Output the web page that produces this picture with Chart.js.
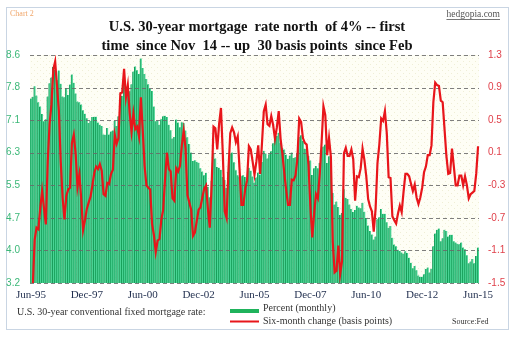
<!DOCTYPE html>
<html>
<head>
<meta charset="utf-8">
<script src="https://cdn.jsdelivr.net/npm/chart.js@4/dist/chart.umd.min.js"></script>
<style>
html,body{margin:0;padding:0;background:#fff;}
#wrap{width:515px;height:339px;position:relative;}
</style>
</head>
<body>
<div id="wrap"><canvas id="c" width="515" height="339"></canvas></div>
<script>
// ---- Data (monthly, Jun-95 .. Jun-15) ----
const startYear = 1995, startMonth = 5; // June
const monthNames = ['Jan','Feb','Mar','Apr','May','Jun','Jul','Aug','Sep','Oct','Nov','Dec'];

// U.S. 30-year conventional fixed mortgage rate, percent (monthly)
const rate1995 = [7.57,7.61,7.86,7.64,7.48,7.38,7.20];
const rate1996 = [7.03,7.08,7.62,7.93,8.07,8.32,8.25,8.00,8.23,7.92,7.62,7.60];
const rate1997 = [7.82,7.65,7.90,8.14,7.94,7.69,7.50,7.48,7.43,7.29,7.21,7.10];
const rate1998 = [6.99,7.04,7.13,7.14,7.14,7.00,6.95,6.92,6.72,6.71,6.87,6.72];
const rate1999 = [6.79,6.81,7.04,6.92,7.15,7.55,7.63,7.94,7.82,7.85,7.74,7.91];
const rate2000 = [8.21,8.33,8.24,8.15,8.52,8.29,8.15,8.03,7.91,7.80,7.75,7.38];
const rate2001 = [7.03,7.05,6.95,7.08,7.15,7.16,7.13,6.95,6.82,6.62,6.66,7.07];
const rate2002 = [7.00,6.89,7.01,6.99,6.81,6.65,6.49,6.29,6.09,6.11,6.07,6.05];
const rate2003 = [5.92,5.84,5.75,5.81,5.48,5.23,5.63,6.26,6.15,5.95,5.93,5.88];
const rate2004 = [5.71,5.64,5.45,5.83,6.27,6.29,6.06,5.87,5.75,5.72,5.73,5.75];
const rate2005 = [5.71,5.63,5.93,5.86,5.72,5.58,5.70,5.82,5.77,6.07,6.33,6.27];
const rate2006 = [6.15,6.25,6.32,6.51,6.60,6.68,6.76,6.52,6.40,6.36,6.24,6.14];
const rate2007 = [6.22,6.29,6.16,6.18,6.26,6.66,6.70,6.57,6.38,6.38,6.21,6.10];
const rate2008 = [5.76,5.92,5.97,5.92,6.04,6.32,6.43,6.48,6.04,6.20,6.09,5.33];
const rate2009 = [5.06,5.13,5.00,4.81,4.86,5.42,5.22,5.19,5.06,4.95,4.88,4.93];
const rate2010 = [5.03,4.99,4.97,5.10,4.89,4.74,4.56,4.43,4.35,4.23,4.30,4.71];
const rate2011 = [4.76,4.95,4.84,4.84,4.64,4.51,4.55,4.27,4.11,4.07,3.99,3.96];
const rate2012 = [3.92,3.89,3.95,3.91,3.80,3.68,3.55,3.60,3.50,3.38,3.35,3.35];
const rate2013 = [3.41,3.53,3.57,3.45,3.54,4.07,4.37,4.46,4.49,4.19,4.26,4.46];
const rate2014 = [4.43,4.30,4.34,4.34,4.19,4.16,4.13,4.12,4.16,4.04,4.00,3.86];
const rate2015 = [3.67,3.71,3.77,3.67,3.84,4.04];

// Six-month change
const chg1995 = [-1.63,-1.54,-0.97,-0.82,-0.84,-0.58,-0.37];
const chg1996 = [-0.58,-0.78,-0.02,0.45,0.69,1.12,1.22,0.92,0.61,-0.01,-0.45,-0.72];
const chg1997 = [-0.43,-0.35,-0.33,0.22,0.32,0.09,-0.32,-0.17,-0.47,-0.85,-0.73,-0.59];
const chg1998 = [-0.51,-0.44,-0.30,-0.15,-0.07,-0.10,-0.04,-0.12,-0.41,-0.43,-0.27,-0.28];
const chg1999 = [-0.16,-0.11,0.32,0.21,0.28,0.83,0.84,1.13,0.78,0.93,0.59,0.36];
const chg2000 = [0.58,0.39,0.42,0.30,0.78,0.38,-0.06,-0.30,-0.33,-0.35,-0.77,-0.91];
const chg2001 = [-1.12,-0.98,-0.96,-0.72,-0.60,-0.22,0.10,-0.10,-0.13,-0.46,-0.49,-0.09];
const chg2002 = [-0.13,-0.06,0.19,0.37,0.15,-0.42,-0.51,-0.60,-0.92,-0.88,-0.74,-0.60];
const chg2003 = [-0.57,-0.45,-0.34,-0.30,-0.59,-0.82,-0.29,0.42,0.40,0.14,0.45,0.65];
const chg2004 = [0.08,-0.62,-0.70,-0.12,0.34,0.41,0.35,0.23,0.30,-0.11,-0.54,-0.54];
const chg2005 = [-0.35,-0.24,0.18,0.14,-0.01,-0.17,-0.01,0.19,-0.16,0.21,0.61,0.69];
const chg2006 = [0.45,0.43,0.55,0.44,0.27,0.41,0.61,0.27,0.08,-0.15,-0.36,-0.54];
const chg2007 = [-0.54,-0.23,-0.24,-0.18,0.02,0.52,0.48,0.28,0.22,0.20,-0.05,-0.56];
const chg2008 = [-0.94,-0.65,-0.41,-0.46,-0.17,0.22,0.67,0.56,0.07,0.28,0.05,-0.99];
const chg2009 = [-1.37,-1.35,-1.04,-1.39,-1.23,0.09,0.16,0.06,0.06,0.14,0.02,-0.49];
const chg2010 = [-0.19,-0.20,-0.09,0.15,0.01,-0.19,-0.47,-0.56,-0.62,-0.87,-0.59,-0.03];
const chg2011 = [0.20,0.52,0.49,0.61,0.34,-0.20,-0.21,-0.68,-0.73,-0.77,-0.65,-0.55];
const chg2012 = [-0.63,-0.38,-0.16,-0.16,-0.19,-0.28,-0.37,-0.29,-0.45,-0.53,-0.45,-0.33];
const chg2013 = [-0.14,-0.07,0.07,0.07,0.19,0.72,0.96,0.93,0.92,0.74,0.72,0.39];
const chg2014 = [0.06,-0.16,-0.15,0.15,-0.07,-0.30,-0.30,-0.18,-0.18,-0.30,-0.19,-0.30];
const chg2015 = [-0.46,-0.41,-0.39,-0.37,-0.16,0.18];

const rates = [].concat(rate1995,rate1996,rate1997,rate1998,rate1999,rate2000,rate2001,rate2002,rate2003,rate2004,rate2005,rate2006,rate2007,rate2008,rate2009,rate2010,rate2011,rate2012,rate2013,rate2014,rate2015);
const changes = [].concat(chg1995,chg1996,chg1997,chg1998,chg1999,chg2000,chg2001,chg2002,chg2003,chg2004,chg2005,chg2006,chg2007,chg2008,chg2009,chg2010,chg2011,chg2012,chg2013,chg2014,chg2015);

const xTickLabels = ['Jun-95','Dec-97','Jun-00','Dec-02','Jun-05','Dec-07','Jun-10','Dec-12','Jun-15'];
const leftTickLabels = ['3.2','4.0','4.7','5.5','6.3','7.1','7.8','8.6'];
const rightTickLabels = ['-1.5','-1.1','-0.7','-0.3','0.1','0.5','0.9','1.3'];
const leftMin = 3.2, leftMax = 8.6, rightMin = -1.5, rightMax = 1.3;

const titleLines = ['U.S. 30-year mortgage  rate north  of 4% -- first','time  since Nov  14 -- up  30 basis points  since Feb'];

const categories = rates.map((_, i) => {
  const m = (startMonth + i) % 12;
  const y = startYear + Math.floor((startMonth + i) / 12);
  return monthNames[m] + '-' + String(y).slice(2);
});

// dotted background pattern
function makePattern(ctx){
  const p = document.createElement('canvas');
  p.width = 6; p.height = 6;
  const pc = p.getContext('2d');
  pc.fillStyle = '#fefef5'; pc.fillRect(0,0,6,6);
  pc.fillStyle = '#efeed6'; pc.fillRect(1,1,1,1); pc.fillRect(4,4,1,1);
  return ctx.createPattern(p,'repeat');
}

const decor = {
  id: 'decor',
  beforeDraw(chart){
    const {ctx, chartArea:a} = chart;
    ctx.save();
    ctx.fillStyle = '#ffffff';
    ctx.fillRect(0,0,chart.width,chart.height);
    ctx.strokeStyle = '#c9d5e3'; ctx.lineWidth = 1;
    ctx.strokeRect(6.5,7.5,502,322);
    ctx.fillStyle = makePattern(ctx);
    ctx.fillRect(a.left, a.top, a.right-a.left, a.bottom-a.top);
    ctx.restore();
  },
  afterDatasetDraw(chart, args){
    if (args.index !== 1) return; // after the bars, before the line
    const {ctx, chartArea:a} = chart;
    const s = chart.scales.yL;
    ctx.save();
    ctx.strokeStyle = 'rgba(105,105,105,0.85)'; ctx.lineWidth = 1;
    ctx.setLineDash([4,3]);
    s.ticks.forEach(t => {
      const y = Math.round(s.getPixelForValue(t.value)) + 0.5;
      ctx.beginPath(); ctx.moveTo(a.left, y); ctx.lineTo(a.right, y); ctx.stroke();
    });
    ctx.restore();
  },
  afterDraw(chart){
    const ctx = chart.ctx;
    ctx.save();
    ctx.textBaseline = 'middle';
    ctx.fillStyle = '#f0a66a'; ctx.font = '8px "Liberation Serif"'; ctx.textAlign = 'left';
    ctx.fillText('Chart 2', 10, 14);
    ctx.fillStyle = '#555'; ctx.font = '9.5px "Liberation Serif"'; ctx.textAlign = 'right';
    ctx.fillText('hedgopia.com', 500, 14);
    const w = ctx.measureText('hedgopia.com').width;
    ctx.fillRect(500 - w, 19, w, 0.8);
    ctx.fillStyle = '#111'; ctx.font = 'bold 14.5px "Liberation Serif"'; ctx.textAlign = 'center';
    ctx.fillText(titleLines[0], 257, 27);
    ctx.fillText(titleLines[1], 257, 46);
    ctx.font = '10px "Liberation Serif"'; ctx.textAlign = 'left'; ctx.fillStyle = '#333';
    ctx.fillText('U.S. 30-year conventional fixed mortgage rate:', 17, 312);
    ctx.fillStyle = '#1fb35c'; ctx.fillRect(230, 309, 29, 4);
    ctx.fillStyle = '#e8161b'; ctx.fillRect(230, 320.5, 29, 2);
    ctx.fillStyle = '#333';
    ctx.fillText('Percent (monthly)', 263, 308);
    ctx.fillText('Six-month change (basis points)', 263, 321);
    ctx.font = '8px "Liberation Serif"';
    ctx.fillText('Source:Fed', 452, 322);
    ctx.restore();
  }
};

new Chart(document.getElementById('c'), {
  data: {
    labels: categories,
    datasets: [
      {
        type: 'line', label: 'Six-month change (basis points)', data: changes, yAxisID: 'yR',
        borderColor: '#e8161b', borderWidth: 2.2, pointRadius: 0, tension: 0, order: 0
      },
      {
        type: 'bar', label: 'Percent (monthly)', data: rates, yAxisID: 'yL',
        backgroundColor: '#4ad596', borderColor: '#139a55', borderWidth: {left:1, right:0, top:0, bottom:0},
        borderSkipped: false, barPercentage: 1, categoryPercentage: 1, order: 1
      }
    ]
  },
  options: {
    responsive: false, animation: false, devicePixelRatio: 1,
    layout: { padding: { top: 55, left: 0, right: 0, bottom: 0 } },
    plugins: { legend: { display: false }, tooltip: { enabled: false }, title: { display: false } },
    scales: {
      x: {
        offset: true,
        grid: { display: false, drawTicks: false },
        border: { display: false },
        ticks: {
          autoSkip: false, maxRotation: 0, minRotation: 0, padding: 6,
          color: '#1f2d4d', font: { family: 'Liberation Serif', size: 11 },
          callback: function(v, i){ const l = categories[i]; return xTickLabels.includes(l) ? l : ''; }
        },
        afterFit(s){ s.height = 339 - 283; }
      },
      yL: {
        position: 'left', min: leftMin, max: leftMax,
        grid: { display: false, drawTicks: false },
        border: { display: false },
        afterBuildTicks(s){ s.ticks = leftTickLabels.map((t,i)=>({ value: leftMin + i*(leftMax-leftMin)/7 })); },
        ticks: { padding: 10, color: '#3cb878', font: { family: 'Liberation Sans', size: 10 },
          callback: (v,i) => leftTickLabels[i] },
        afterFit(s){ s.width = 30; }
      },
      yR: {
        position: 'right', min: rightMin, max: rightMax,
        grid: { display: false, drawTicks: false },
        border: { display: false },
        afterBuildTicks(s){ s.ticks = rightTickLabels.map((t,i)=>({ value: rightMin + i*0.4 })); },
        ticks: { padding: 9, color: '#e0404a', font: { family: 'Liberation Sans', size: 10 },
          callback: (v,i) => rightTickLabels[i] },
        afterFit(s){ s.width = 515 - 479; }
      }
    }
  },
  plugins: [decor]
});
</script>
</body>
</html>
